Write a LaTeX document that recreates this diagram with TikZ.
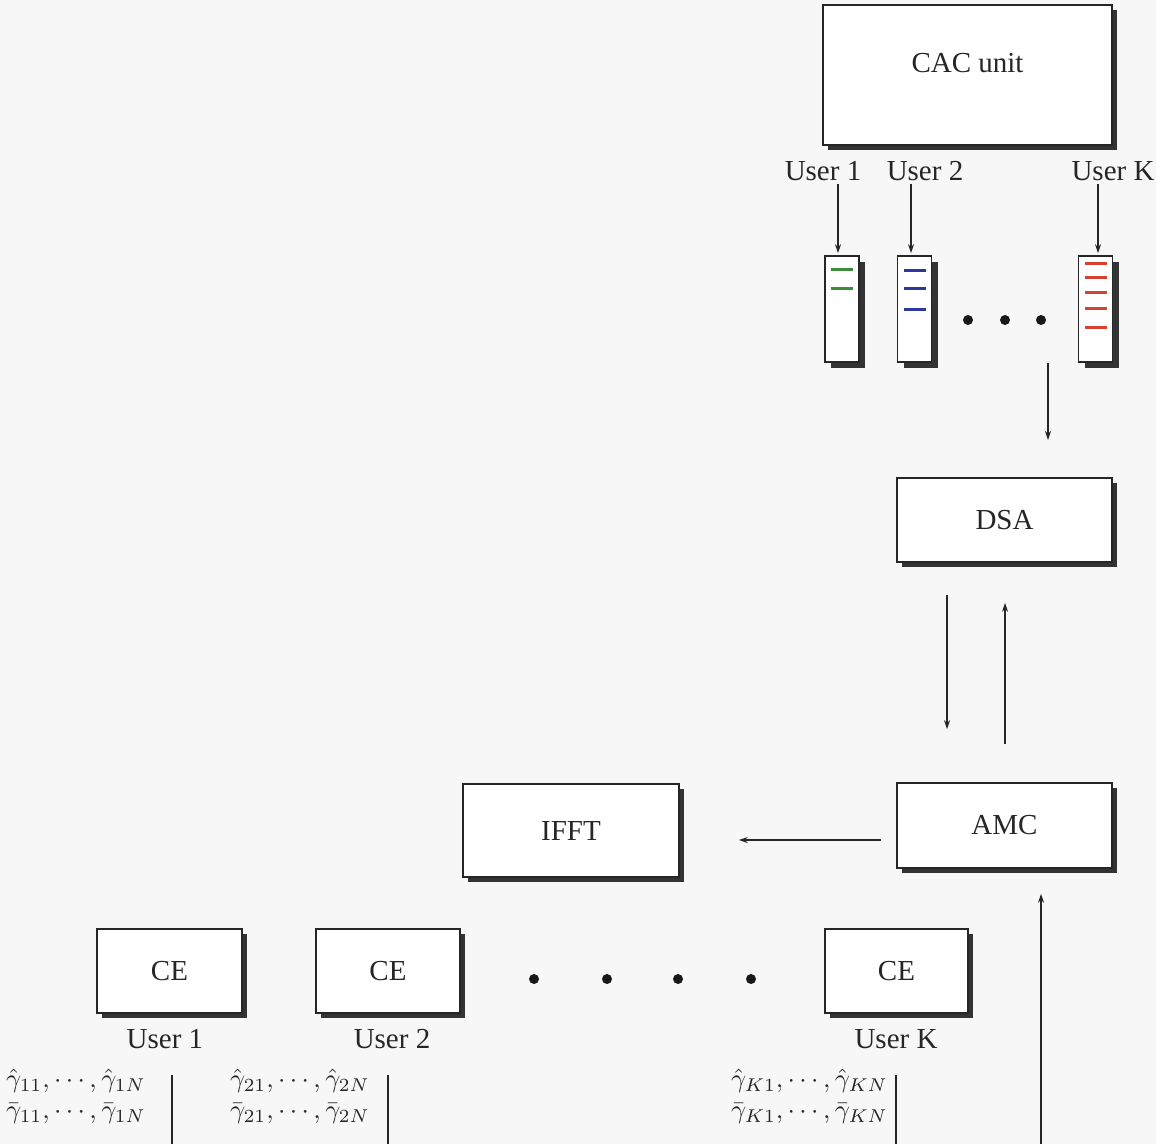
\documentclass[tikz,border=0pt]{standalone}
\usepackage[no-math]{fontspec}
\setmainfont{Liberation Serif}
\usetikzlibrary{arrows.meta,shadows}
\begin{document}
\begin{tikzpicture}[x=1pt,y=-1pt,
  every node/.style={font=\fontsize{29}{34}\selectfont, text=black!85},
  box/.style={draw=black!85, line width=1.6pt, fill=white, inner sep=0pt,
    general shadow={fill=black!80, shadow xshift=5pt, shadow yshift=-5pt}},
  buf/.style={draw=black!85, line width=1.6pt, fill=white, minimum width=34pt,
    minimum height=106pt, inner sep=0pt,
    general shadow={fill=black!80, shadow xshift=6pt, shadow yshift=-6pt}},
  arr/.style={draw=black!85, line width=1.4pt, -{Stealth[length=9pt,width=6pt]}},
  ln/.style={draw=black!85, line width=1.4pt},
  dot/.style={circle, fill=black!90, minimum size=10pt, inner sep=0pt},
  glab/.style={anchor=west, font=\fontsize{10}{11.6}\selectfont, inner sep=0pt},
  qbar/.style={line width=3pt},
]
\useasboundingbox (0,0) rectangle (1156,1144);
\fill[black!3] (0,0) rectangle (1156,1144);
\definecolor{qgreen}{RGB}{60,140,60}
\definecolor{qblue}{RGB}{45,55,160}
\definecolor{qred}{RGB}{215,65,50}

% CAC unit
\node[box, minimum width=289pt, minimum height=140pt,
      label={[yshift=12pt]center:CAC unit}] (cac) at (967.5,75) {};
\node (u1) at (823,171) {User 1};
\node (u2) at (925,171) {User 2};
\node (uk) at (1113,171) {User K};

% buffers
\node[buf] (b1) at (842,309) {};
\node[buf] (b2) at (914.5,309) {};
\node[buf] (bk) at (1095.5,309) {};
\draw[arr] ([xshift=-4pt]b1.north |- u1.south) -- ([xshift=-4pt,yshift=2pt]b1.north);
\draw[arr] ([xshift=-3.5pt]b2.north |- u2.south) -- ([xshift=-3.5pt,yshift=2pt]b2.north);
\draw[arr] ([xshift=2.5pt]bk.north |- uk.south) -- ([xshift=2.5pt,yshift=2pt]bk.north);

\draw[qbar, qgreen] (831,269) -- (853,269);
\draw[qbar, qgreen] (831,288) -- (853,288);
\draw[qbar, qblue] (903.5,270) -- (925.5,270);
\draw[qbar, qblue] (903.5,288) -- (925.5,288);
\draw[qbar, qblue] (903.5,309) -- (925.5,309);
\draw[qbar, qred] (1084.5,263) -- (1106.5,263);
\draw[qbar, qred] (1084.5,277) -- (1106.5,277);
\draw[qbar, qred] (1084.5,292) -- (1106.5,292);
\draw[qbar, qred] (1084.5,308) -- (1106.5,308);
\draw[qbar, qred] (1084.5,327) -- (1106.5,327);

\node[dot] (qd1) at (968,320) {};
\node[dot] (qd2) at (1005,320) {};
\node[dot] (qd3) at (1041,320) {};

% DSA
\node[box, minimum width=215pt, minimum height=84pt] (dsa) at (1004.5,520) {DSA};
\coordinate (qa) at (1048,363);
\coordinate (qb) at (1048,440);
\draw[arr] (qa) -- (qb);

% AMC
\node[box, minimum width=215pt, minimum height=85pt] (amc) at (1004.5,825.5) {AMC};
\draw[arr] ([xshift=-57.5pt,yshift=-32pt]dsa.south) -- ([xshift=-57.5pt,yshift=53pt]amc.north);
\draw[arr] ([xshift=0.5pt,yshift=38pt]amc.north) -- ([xshift=0.5pt,yshift=-40pt]dsa.south);

% IFFT
\node[box, minimum width=216pt, minimum height=93pt] (ifft) at (571,830.5) {IFFT};
\draw[arr] ([xshift=-15pt,yshift=-14.5pt]amc.west) -- ([xshift=59pt,yshift=-9.5pt]ifft.east);

\coordinate (rb) at (1041,1144);
\draw[arr] (rb) -- ([xshift=36.5pt,yshift=-25pt]amc.south);

% CE boxes
\node[box, minimum width=145pt, minimum height=84pt] (ce1) at (169.5,971) {CE};
\node[box, minimum width=144pt, minimum height=84pt] (ce2) at (388,971) {CE};
\node[box, minimum width=143pt, minimum height=84pt] (cek) at (896.5,971) {CE};
\node[dot] (cd1) at (534,979) {};
\node[dot] (cd2) at (607,979) {};
\node[dot] (cd3) at (678,979) {};
\node[dot] (cd4) at (751,979) {};

\node (cu1) at (165,1039) {User 1};
\node (cu2) at (392,1039) {User 2};
\node (cuk) at (896,1039) {User K};

\node[glab] (g1) at (6,1097) {\scalebox{2.65}{\begin{tabular}{@{}l@{}}$\hat\gamma_{11},\cdots,\hat\gamma_{1N}$\\$\bar\gamma_{11},\cdots,\bar\gamma_{1N}$\end{tabular}}};
\node[glab] (g2) at (230,1097) {\scalebox{2.65}{\begin{tabular}{@{}l@{}}$\hat\gamma_{21},\cdots,\hat\gamma_{2N}$\\$\bar\gamma_{21},\cdots,\bar\gamma_{2N}$\end{tabular}}};
\node[glab] (gk) at (731,1097) {\scalebox{2.65}{\begin{tabular}{@{}l@{}}$\hat\gamma_{K1},\cdots,\hat\gamma_{KN}$\\$\bar\gamma_{K1},\cdots,\bar\gamma_{KN}$\end{tabular}}};

\coordinate (t1) at (172,1075);
\coordinate (e1) at (172,1144);
\coordinate (t2) at (388,1075);
\coordinate (e2) at (388,1144);
\coordinate (tk) at (896,1075);
\coordinate (ek) at (896,1144);
\draw[ln] (t1) -- (e1);
\draw[ln] (t2) -- (e2);
\draw[ln] (tk) -- (ek);
\end{tikzpicture}
\end{document}
